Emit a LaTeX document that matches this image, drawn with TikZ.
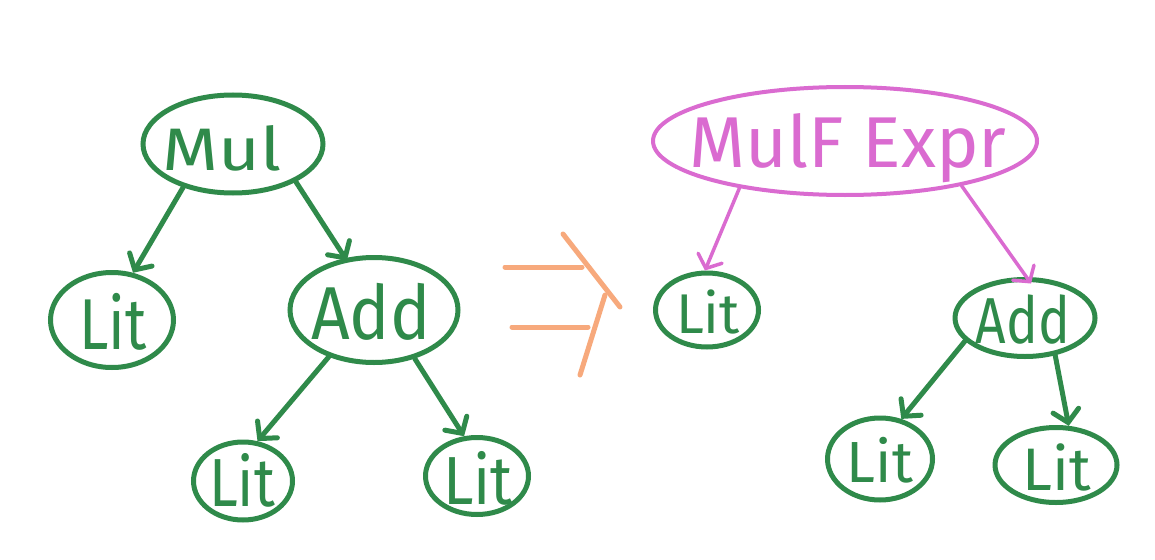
\documentclass[tikz,border=0pt]{standalone}
\usepackage{fontspec}
\setmainfont{Fira Sans}
\usepackage{graphicx}
\usetikzlibrary{shapes.geometric,arrows.meta}
\definecolor{grn}{HTML}{2F8A4A}
\definecolor{mag}{HTML}{DA6BD0}
\definecolor{org}{HTML}{F7A97C}
\newcommand{\fs}[1]{\fontsize{#1}{#1}\selectfont}
\tikzset{
  gbox/.style={ellipse, draw=grn, line width=5pt, inner sep=0pt},
  mbox/.style={ellipse, draw=mag, line width=4pt, inner sep=0pt},
  gtxt/.style={text=grn, inner sep=0pt},
  mtxt/.style={text=mag, inner sep=0pt},
  garrow/.style={draw=grn, line width=5pt, line cap=round, -{Straight Barb[length=12pt,width=26pt,line cap=round]}},
  marrow/.style={draw=mag, line width=3.5pt, line cap=round, -{Straight Barb[length=11pt,width=26pt,line cap=round]}},
  oline/.style={draw=org, line width=5pt, line cap=round}
}
\begin{document}
\begin{tikzpicture}[x=1pt,y=-1pt]
\useasboundingbox[fill=white] (0,0) rectangle (1155,559);
% left tree
\node[gbox, minimum width=180, minimum height=98] (mul) at (233,144) {};
\node[gtxt] (mult) at (222,148) {\fs{60}\scalebox{1.2}[1]{Mul}};
\node[gbox, minimum width=123, minimum height=95] (lit1) at (112,320) {};
\node[gtxt] (lit1t) at (113,322) {\fs{72}\scalebox{0.82}[1]{Lit}};
\node[gbox, minimum width=168, minimum height=105] (add1) at (374,310) {};
\node[gtxt] (add1t) at (371,312) {\fs{75}\scalebox{0.9}[1]{Add}};
\node[gbox, minimum width=99, minimum height=78] (lit2) at (243,481) {};
\node[gtxt] (lit2t) at (242,480) {\fs{68}\scalebox{0.85}[1]{Lit}};
\node[gbox, minimum width=103, minimum height=77] (lit3) at (477,476) {};
\node[gtxt] (lit3t) at (478,478) {\fs{68}\scalebox{0.9}[1]{Lit}};
\draw[garrow] (mul.221) -- (lit1.66);
\draw[garrow, shorten >=-3pt] (mul.-31) -- (add1.119);
\draw[garrow] (add1.226) -- (lit2.70);
\draw[garrow] (add1.-50) -- (lit3.108);
% transformation arrow
\coordinate (o1) at (505,267);
\coordinate (o2) at (582,267);
\coordinate (o3) at (512,327);
\coordinate (o4) at (588,327);
\coordinate (o5) at (563,234);
\coordinate (o6) at (620,307);
\coordinate (o7) at (605,295);
\coordinate (o8) at (580,375);
\draw[oline] (o1) -- (o2);
\draw[oline] (o3) -- (o4);
\draw[oline] (o5) -- (o6);
\draw[oline] (o7) -- (o8);
% right tree
\node[mbox, minimum width=384, minimum height=108] (mulf) at (845,141) {};
\node[mtxt] (mulft) at (848,148) {\fs{72}MulF Expr};
\node[gbox, minimum width=103, minimum height=74] (lit4) at (707,310) {};
\node[gtxt] (lit4t) at (708,312) {\fs{56}Lit};
\node[gbox, minimum width=140, minimum height=77] (add2) at (1025,318) {};
\node[gtxt] (add2t) at (1023,320) {\fs{65}\scalebox{0.82}[1]{Add}};
\node[gbox, minimum width=105, minimum height=82] (lit5) at (880,459) {};
\node[gtxt] (lit5t) at (880,460) {\fs{58}Lit};
\node[gbox, minimum width=122, minimum height=75] (lit6) at (1056,465) {};
\node[gtxt] (lit6t) at (1057,467) {\fs{60}Lit};
\draw[marrow] (mulf.204) -- (lit4.93);
\draw[marrow, shorten >=-8pt] (mulf.-21) -- (add2.88);
\draw[garrow] (add2.201) -- (lit5.62);
\draw[garrow] (add2.-51) -- (lit6.72);
\end{tikzpicture}
\end{document}
